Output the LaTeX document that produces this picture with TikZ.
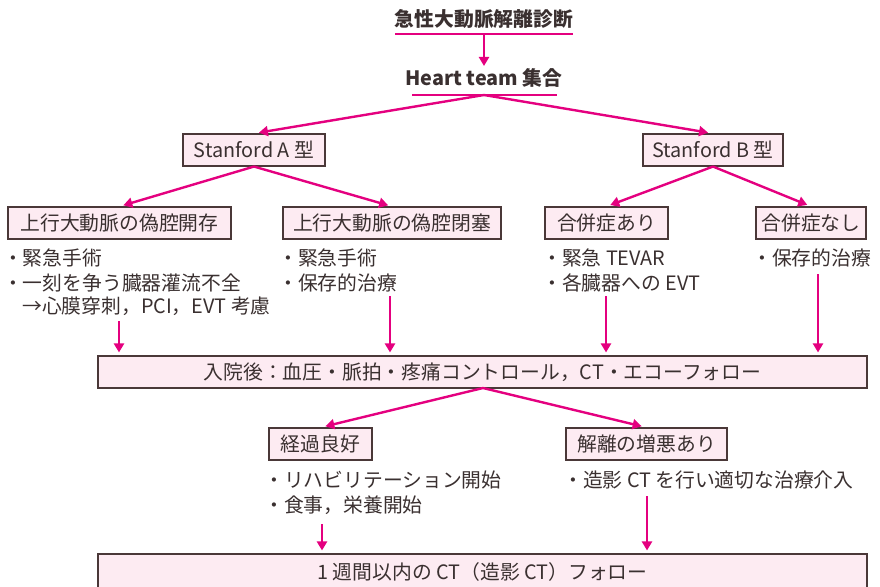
\documentclass[tikz,border=0pt]{standalone}
\usepackage{fontspec}
\setmainfont{Noto Sans CJK JP}
\usetikzlibrary{arrows.meta}
\definecolor{mag}{HTML}{E4007F}
\definecolor{txtc}{HTML}{3A3030}
\definecolor{boxfill}{HTML}{FDEBF2}
\definecolor{boxline}{HTML}{4A3838}
\begin{document}
\begin{tikzpicture}[x=1pt,y=-1pt,
  every node/.style={text=txtc, font=\fontsize{19.8}{22}\selectfont, inner sep=0pt},
  box/.style={draw=boxline, fill=boxfill, line width=1.1pt, minimum height=32pt},
  conn/.style={draw=mag, line width=2.4pt, -{Triangle[length=9pt,width=10pt]}},
  ul/.style={draw=mag, line width=1.3pt},
  bul/.style={anchor=west},
  headtxt/.style={font=\fontsize{19.8}{22}\selectfont\bfseries}
]
\useasboundingbox (0,0) rectangle (880,586);

% title
\node[headtxt] (title) at (484,19) {急性大動脈解離診断};
\coordinate (u1a) at (395,34);
\coordinate (u1b) at (573,34);
\draw[ul] (u1a) -- (u1b);
\coordinate (t1) at (484,34);
\node[headtxt] (heart) at (484,78) {Heart team 集合};
\coordinate (u2a) at (412,95);
\coordinate (u2b) at (557,95);
\draw[ul] (u2a) -- (u2b);
\coordinate (h1) at (484,95);
\draw[conn] (t1) -- (484,66);

% Stanford boxes
\node[box, minimum width=142pt] (sA) at (254,150) {Stanford A 型};
\node[box, minimum width=140pt] (sB) at (713,150) {Stanford B 型};
\draw[conn, shorten >=5pt] (h1) -- (sA.north);
\draw[conn, shorten >=5pt] (h1) -- (sB.north);

% second level boxes
\node[box, minimum width=223pt] (b1) at (119.5,223) {上行大動脈の偽腔開存};
\node[box, minimum width=218pt] (b2) at (392,223) {上行大動脈の偽腔閉塞};
\node[box, minimum width=123pt] (b3) at (606.5,223) {合併症あり};
\node[box, minimum width=110pt] (b4) at (811,223) {合併症なし};
\draw[conn, shorten >=4pt] (sA.south) -- (b1.north);
\draw[conn, shorten >=4pt] (sA.south) -- (b2.north);
\draw[conn, shorten >=4pt] (sB.south) -- (b3.north);
\draw[conn, shorten >=4pt] (sB.south) -- (b4.north);

% bullets
\node[bul] (l1a) at (3,258) {・緊急手術};
\node[bul] (l1b) at (3,283) {・一刻を争う臓器灌流不全};
\node[bul] (l1c) at (22,306) {→心膜穿刺，PCI，EVT 考慮};
\node[bul] (l2a) at (278,258) {・緊急手術};
\node[bul] (l2b) at (278,283) {・保存的治療};
\node[bul] (l3a) at (542,258) {・緊急 TEVAR};
\node[bul] (l3b) at (542,283) {・各臓器への EVT};
\node[bul] (l4a) at (752,258) {・保存的治療};

% wide box
\node[box, minimum width=769pt] (wide) at (482.5,372) {入院後：血圧・脈拍・疼痛コントロール，CT・エコーフォロー};
\coordinate (a1) at (119,321);
\coordinate (a2) at (390,296);
\coordinate (a3) at (606,296);
\coordinate (a4) at (818,274);
\draw[conn, shorten >=3pt] (a1) -- (a1 |- wide.north);
\draw[conn, shorten >=3pt] (a2) -- (a2 |- wide.north);
\draw[conn, shorten >=3pt] (a3) -- (a3 |- wide.north);
\draw[conn, shorten >=3pt] (a4) -- (a4 |- wide.north);

% lower boxes
\node[box, minimum width=103pt] (g1) at (320.5,444) {経過良好};
\node[box, minimum width=161pt] (g2) at (646.5,444) {解離の増悪あり};
\coordinate (w1) at (483,388);
\draw[conn, shorten >=5pt] (w1) -- (g1.north);
\draw[conn, shorten >=5pt] (w1) -- (g2.north);

\node[bul] (m1a) at (264,480) {・リハビリテーション開始};
\node[bul] (m1b) at (264,505) {・食事，栄養開始};
\node[bul] (m2a) at (563,480) {・造影 CT を行い適切な治療介入};

% bottom box
\node[box, minimum width=769pt, minimum height=36pt] (bot) at (482.5,572) {1 週間以内の CT（造影 CT）フォロー};
\coordinate (c1) at (322,524);
\coordinate (c2) at (647,496);
\draw[conn, shorten >=3pt] (c1) -- (c1 |- bot.north);
\draw[conn, shorten >=3pt] (c2) -- (c2 |- bot.north);
\end{tikzpicture}
\end{document}
